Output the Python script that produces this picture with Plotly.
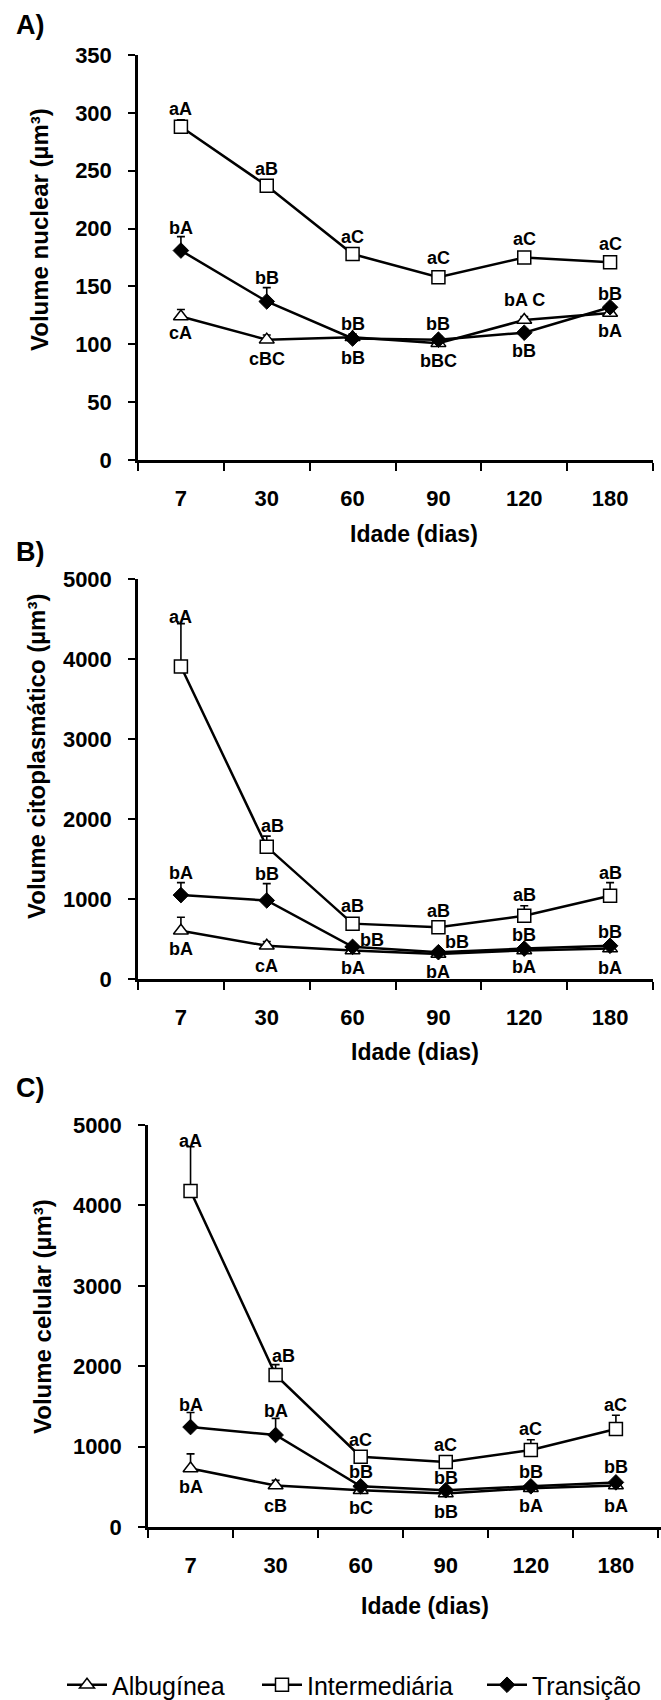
import plotly.graph_objects as go

# ---------------- data ----------------
days = ["7", "30", "60", "90", "120", "180"]
series_names = ["Albugínea", "Intermediária", "Transição"]

# Panel A: Volume nuclear (µm³)
a_alb = [124, 104, 106, 101, 121, 127]
a_int = [288, 237, 178, 158, 175, 171]
a_tra = [181, 137, 105, 104, 110, 132]
a_alb_err = [6, 4, 3, 3, 3, 3]
a_int_err = [6, 4, 4, 3, 5, 3]
a_tra_err = [12, 12, 3, 3, 3, 3]
a_alb_lab = ["cA", "cBC", "bB", "bBC", "bA C", "bA"]
a_int_lab = ["aA", "aB", "aC", "aC", "aC", "aC"]
a_tra_lab = ["bA", "bB", "bB", "bB", "bB", "bB"]

# Panel B: Volume citoplasmático (µm³)
b_alb = [603, 415, 357, 312, 357, 380]
b_int = [3906, 1652, 692, 647, 790, 1040]
b_tra = [1049, 982, 402, 335, 380, 415]
b_alb_err = [169, 54, 20, 20, 20, 20]
b_int_err = [536, 134, 60, 50, 125, 165]
b_tra_err = [156, 210, 30, 30, 30, 30]
b_alb_lab = ["bA", "cA", "bA", "bA", "bA", "bA"]
b_int_lab = ["aA", "aB", "aB", "aB", "aB", "aB"]
b_tra_lab = ["bA", "bB", "bB", "bB", "bB", "bB"]

# Panel C: Volume celular (µm³)
c_alb = [727, 516, 457, 418, 481, 516]
c_int = [4180, 1891, 874, 810, 958, 1218]
c_tra = [1243, 1144, 506, 457, 506, 555]
c_alb_err = [182, 64, 25, 25, 25, 25]
c_int_err = [550, 128, 60, 50, 127, 172]
c_tra_err = [181, 207, 30, 30, 30, 30]
c_alb_lab = ["bA", "cB", "bC", "bB", "bA", "bA"]
c_int_lab = ["aA", "aB", "aC", "aC", "aC", "aC"]
c_tra_lab = ["bA", "bA", "bB", "bB", "bB", "bB"]

y_titles = ["Volume nuclear (µm³)", "Volume citoplasmático (µm³)", "Volume celular (µm³)"]
x_title = "Idade (dias)"
panel_letters = ["A)", "B)", "C)"]
y_ranges = [(0, 350, 50), (0, 5000, 1000), (0, 5000, 1000)]

# ---------------- styles / layout (pixels) ----------------
W, H = 661, 1700
boxes = [(138, 653, 55, 460), (138, 653, 579, 979), (148, 661, 1125, 1527)]
x_range_right = [5.5, 5.5, 5.53]
ytitle_pos = [(40, 230), (36, 757), (42, 1317)]
xtitle_pos = [(414, 534), (415, 1052), (425, 1606)]
letter_pos = [(14, 25), (14, 552), (14, 1088)]
legend_x = [62, 257, 482]
legend_y = 1685

shifts = {
    0: {"alb": [-16, -19, -21, -18, 20, -18], "int": [18, 17, 17, 19, 19, 18], "tra": [23, 23, 15, 16, -18, 13],
        "int_x": [0] * 6, "tra_x": [0] * 6},
    1: {"alb": [-18, -20, -18, -18, -17, -19], "int": [50, 21, 18, 16, 21, 23], "tra": [22, 26, 7, 10, 14, 14],
        "int_x": [0, 6, 0, 0, 0, 0], "tra_x": [0, 0, 19, 19, 0, 0]},
    2: {"alb": [-18, -20, -18, -19, -18, -20], "int": [50, 19, 17, 17, 21, 24], "tra": [22, 24, 14, 12, 14, 15],
        "int_x": [0, 8, 0, 0, 0, 0], "tra_x": [0] * 6},
}

FONT = "Liberation Sans, Arial, sans-serif"
BLACK = "black"

panels = [
    (a_alb, a_int, a_tra, a_alb_err, a_int_err, a_tra_err, a_alb_lab, a_int_lab, a_tra_lab),
    (b_alb, b_int, b_tra, b_alb_err, b_int_err, b_tra_err, b_alb_lab, b_int_lab, b_tra_lab),
    (c_alb, c_int, c_tra, c_alb_err, c_int_err, c_tra_err, c_alb_lab, c_int_lab, c_tra_lab),
]

marker_styles = {
    "Albugínea": dict(symbol="triangle-up", size=13, color="white", line=dict(color=BLACK, width=1.5)),
    "Intermediária": dict(symbol="square", size=13, color="white", line=dict(color=BLACK, width=1.5)),
    "Transição": dict(symbol="diamond", size=12, color=BLACK, line=dict(color=BLACK, width=1)),
}
legend_ids = {"Albugínea": "legend", "Intermediária": "legend2", "Transição": "legend3"}

fig = go.Figure()
annotations = []

for p, (alb, itm, tra, alb_e, itm_e, tra_e, alb_l, itm_l, tra_l) in enumerate(panels):
    xa = "x" if p == 0 else f"x{p+1}"
    ya = "y" if p == 0 else f"y{p+1}"
    for name, vals, errs in [("Albugínea", alb, alb_e), ("Intermediária", itm, itm_e), ("Transição", tra, tra_e)]:
        fig.add_trace(go.Scatter(
            x=days, y=vals, name=name, mode="lines+markers",
            xaxis=xa, yaxis=ya, showlegend=(p == 2), legend=legend_ids[name],
            line=dict(color=BLACK, width=2.5),
            marker=marker_styles[name],
            error_y=dict(type="data", symmetric=False, array=errs, arrayminus=[0] * len(errs),
                         color=BLACK, thickness=1.6, width=4),
        ))
    sh = shifts[p]
    for vals, labs, key, xkey in [(alb, alb_l, "alb", None), (itm, itm_l, "int", "int_x"), (tra, tra_l, "tra", "tra_x")]:
        for i, (v, t) in enumerate(zip(vals, labs)):
            annotations.append(dict(
                x=i, y=v, xref=xa, yref=ya, text=t, showarrow=False,
                yshift=sh[key][i], xshift=(sh[xkey][i] if xkey else 0),
                font=dict(family=FONT, size=18, color=BLACK, weight="bold"),
            ))

    l, r, t, b = boxes[p]
    ymin, ymax, dt = y_ranges[p]
    axis_suffix = "" if p == 0 else str(p + 1)
    fig.layout["xaxis" + axis_suffix] = dict(
        domain=[l / W, r / W], anchor=ya, type="category", range=[-0.5, x_range_right[p]],
        showline=True, linecolor=BLACK, linewidth=2.5, ticks="outside", tickson="boundaries",
        ticklen=8, tickwidth=2, tickcolor=BLACK, showgrid=False, zeroline=False,
        tickfont=dict(family=FONT, size=22, color=BLACK, weight="bold"), ticklabelstandoff=17,
        automargin=False,
    )
    fig.layout["yaxis" + axis_suffix] = dict(
        domain=[1 - b / H, 1 - t / H], anchor=xa, range=[ymin, ymax], tickmode="linear",
        tick0=0, dtick=dt, showline=True, linecolor=BLACK, linewidth=2.5, ticks="outside",
        ticklen=7, tickwidth=2, tickcolor=BLACK, showgrid=False, zeroline=False,
        tickfont=dict(family=FONT, size=22, color=BLACK, weight="bold"), ticklabelstandoff=12,
        automargin=False,
    )
    tx, ty = ytitle_pos[p]
    annotations.append(dict(x=tx / W, y=1 - ty / H, xref="paper", yref="paper", text=y_titles[p],
                            textangle=-90, showarrow=False, xanchor="center", yanchor="middle",
                            font=dict(family=FONT, size=24, color=BLACK, weight="bold")))
    tx, ty = xtitle_pos[p]
    annotations.append(dict(x=tx / W, y=1 - ty / H, xref="paper", yref="paper", text=x_title,
                            showarrow=False, xanchor="center", yanchor="middle",
                            font=dict(family=FONT, size=23, color=BLACK, weight="bold")))
    tx, ty = letter_pos[p]
    annotations.append(dict(x=tx / W, y=1 - ty / H, xref="paper", yref="paper", text=panel_letters[p],
                            showarrow=False, xanchor="left", yanchor="middle",
                            font=dict(family=FONT, size=27, color=BLACK, weight="bold")))

legend_common = dict(orientation="h", yanchor="middle", xanchor="left",
                     font=dict(family=FONT, size=25, color=BLACK), itemwidth=40,
                     bgcolor="rgba(0,0,0,0)", borderwidth=0)
fig.update_layout(
    width=W, height=H, margin=dict(l=0, r=0, t=0, b=0, autoexpand=False),
    paper_bgcolor="white", plot_bgcolor="white",
    annotations=annotations,
    legend=dict(x=legend_x[0] / W, y=1 - legend_y / H, **legend_common),
    legend2=dict(x=legend_x[1] / W, y=1 - legend_y / H, **legend_common),
    legend3=dict(x=legend_x[2] / W, y=1 - legend_y / H, **legend_common),
)

fig.write_html("out.html", config={"displayModeBar": False},
               post_script="document.body.style.margin='0px';")
